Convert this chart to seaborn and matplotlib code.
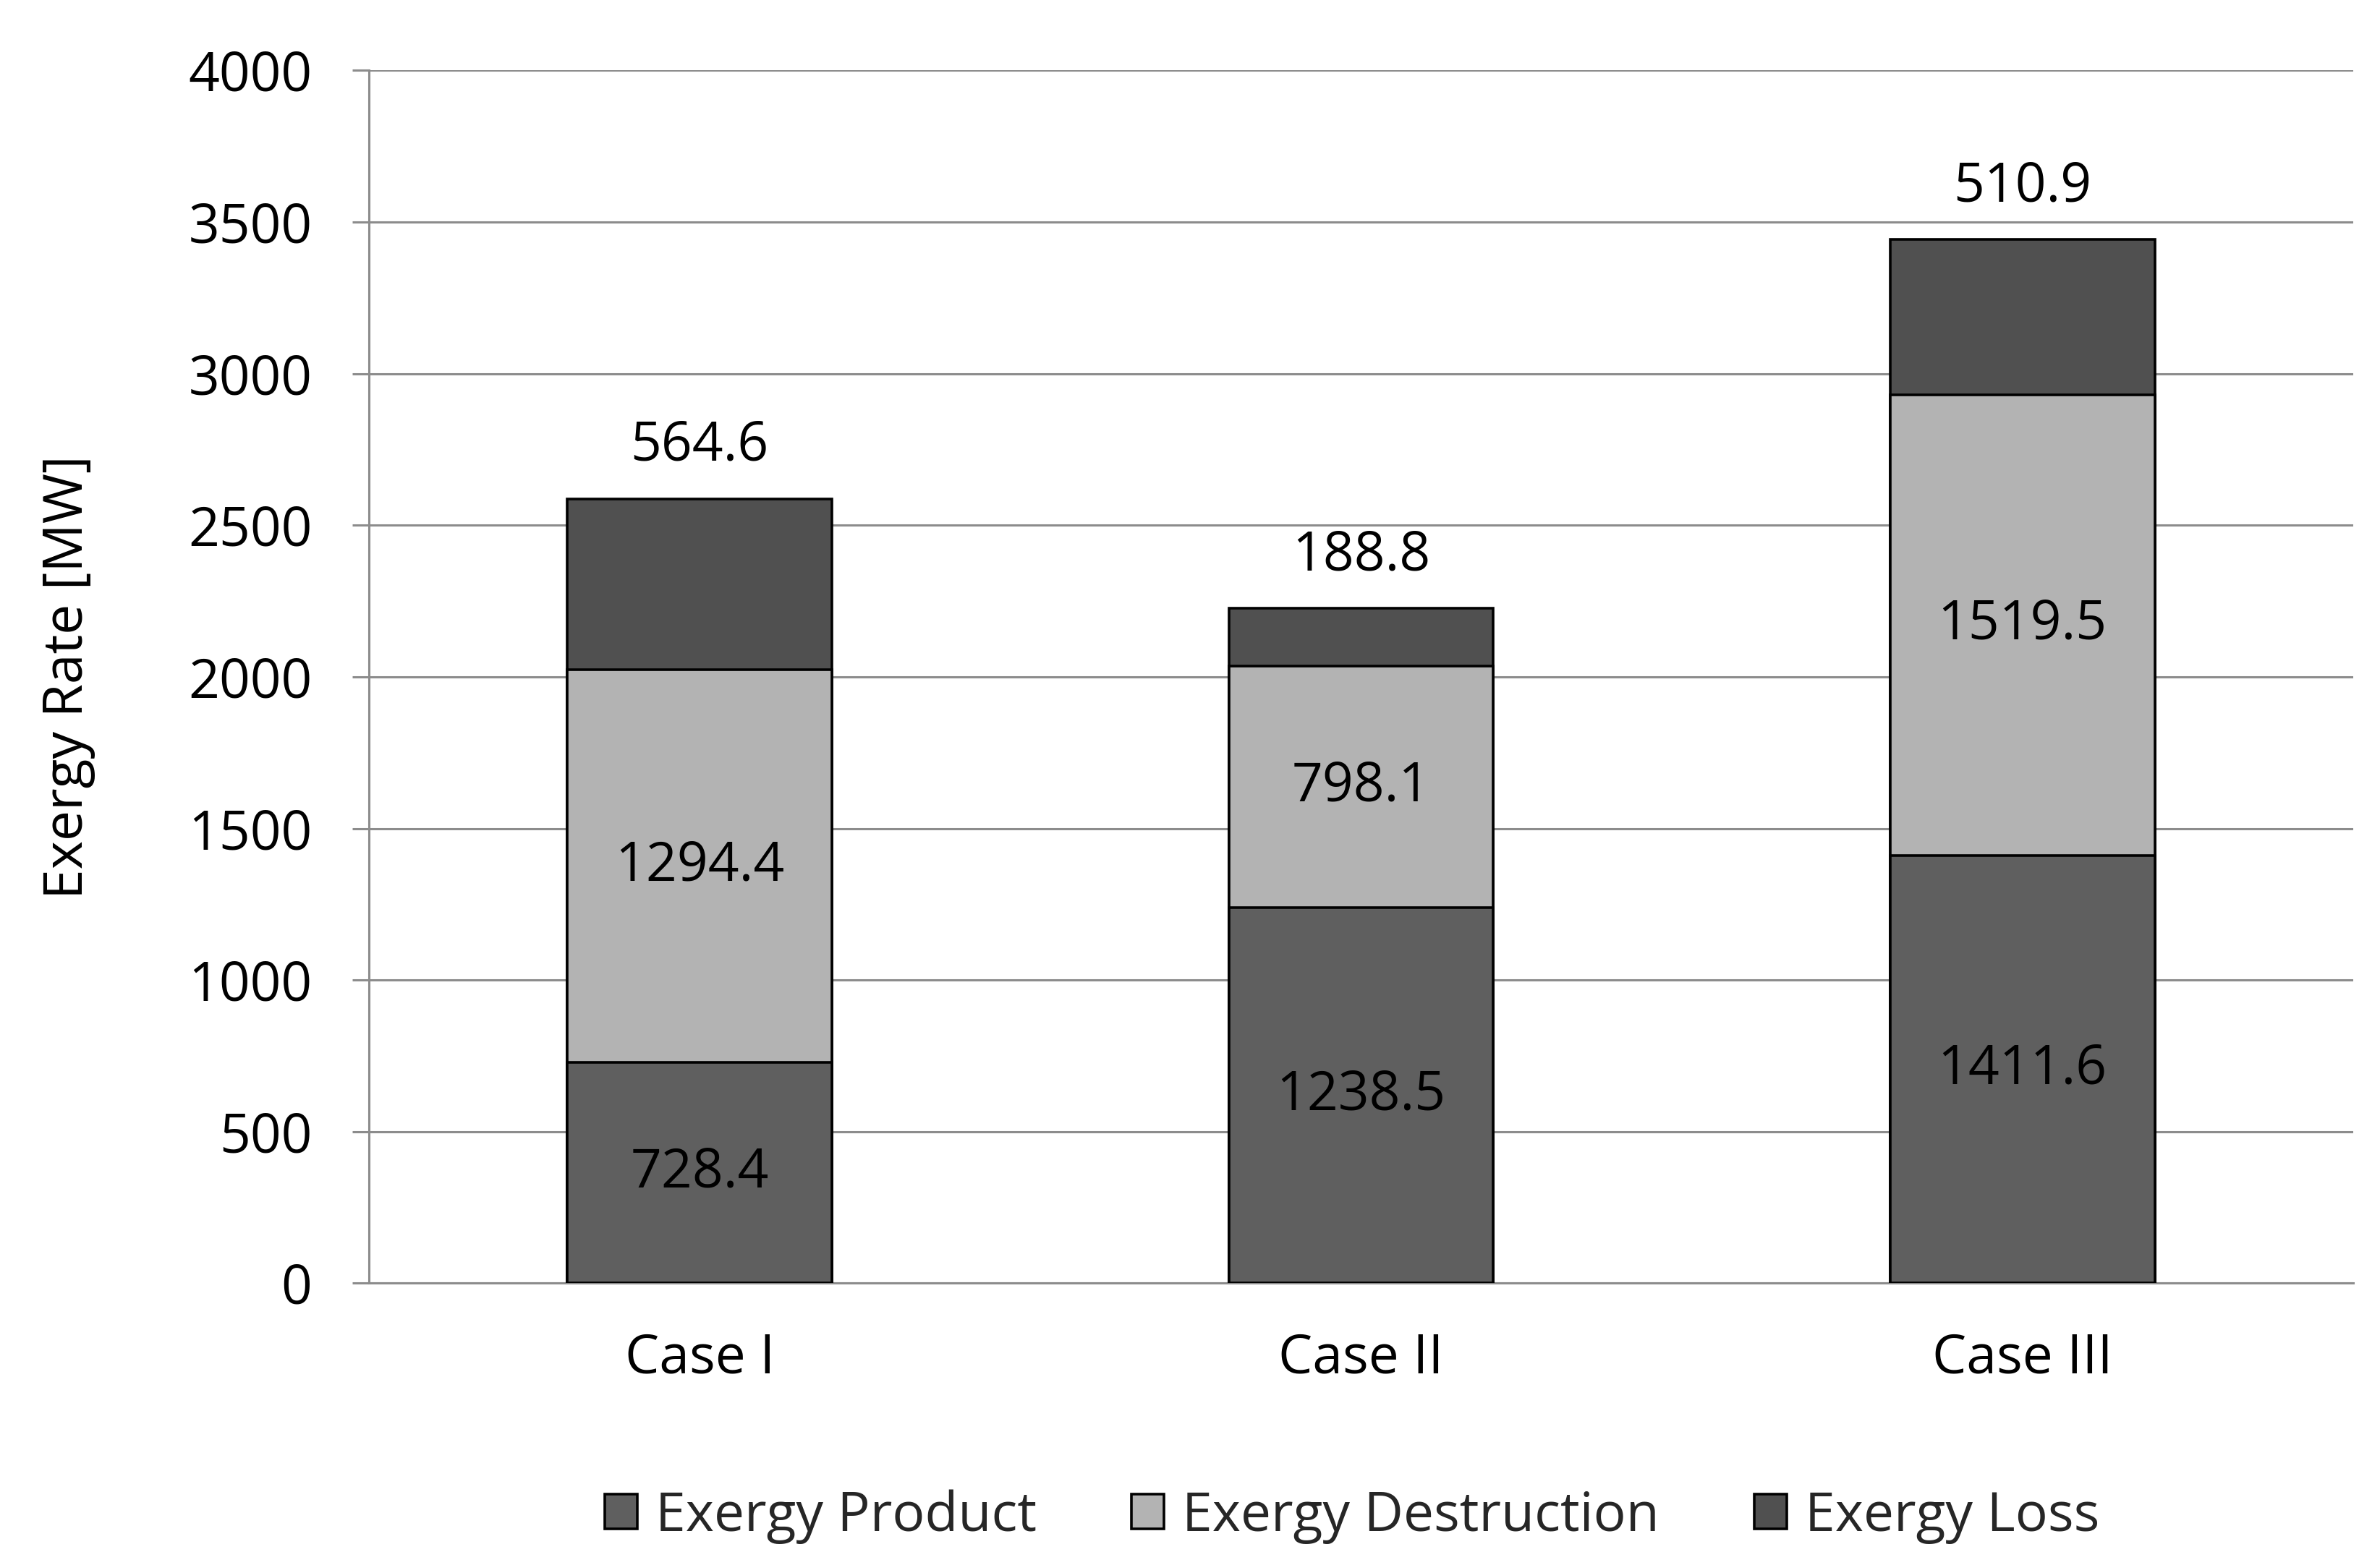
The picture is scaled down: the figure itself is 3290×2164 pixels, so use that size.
import matplotlib
matplotlib.use("Agg")
import matplotlib.pyplot as plt
import seaborn as sns
import numpy as np
import pandas as pd

cases = ["Case I", "Case II", "Case III"]
exergy_product = [728.4, 1238.5, 1411.6]
exergy_destruction = [1294.4, 798.1, 1519.5]
exergy_loss = [564.6, 188.8, 510.9]
series_names = ["Exergy Product", "Exergy Destruction", "Exergy Loss"]
series_colors = ["#5f5f5f", "#b3b3b3", "#505050"]
y_ticks = [0, 500, 1000, 1500, 2000, 2500, 3000, 3500, 4000]

sns.set_theme(style="white")
plt.rcParams['font.family'] = ['Open Sans', 'DejaVu Sans']

FS = 27
fig = plt.figure(figsize=(16.455, 10.82), dpi=200)
ax = fig.add_axes([0.155, 0.180, 0.8334, 0.775])

p = np.array(exergy_product)
d = np.array(exergy_destruction)
l = np.array(exergy_loss)
cum1 = p
cum2 = p + d
cum3 = p + d + l

df = pd.DataFrame({"case": cases, "c1": cum1, "c2": cum2, "c3": cum3})

common = dict(edgecolor="black", linewidth=1.3, width=0.4, ax=ax, zorder=3)
sns.barplot(data=df, x="case", y="c3", color=series_colors[2], label=series_names[2], **common)
sns.barplot(data=df, x="case", y="c2", color=series_colors[1], label=series_names[1], **common)
sns.barplot(data=df, x="case", y="c1", color=series_colors[0], label=series_names[0], **common)
for cont, col in zip(ax.containers, [series_colors[2], series_colors[1], series_colors[0]]):
    for bar in cont:
        bar.set_facecolor(col)
if ax.get_legend() is not None:
    ax.get_legend().remove()

ax.set_xlim(-0.5, 2.5)
ax.set_ylim(0, 4000)
ax.set_yticks(y_ticks)
ax.set_yticklabels([str(t) for t in y_ticks])
ax.yaxis.grid(True, color="#8c8c8c", linewidth=1.1, zorder=0)
ax.xaxis.grid(False)
ax.set_axisbelow(True)

for s in ["top", "right"]:
    ax.spines[s].set_visible(False)
for s in ["left", "bottom"]:
    ax.spines[s].set_color("#8c8c8c")
    ax.spines[s].set_linewidth(1.1)

ax.tick_params(axis="y", which="major", length=8.3, width=1.1, color="#8c8c8c",
               pad=20, labelsize=FS, labelcolor="black", left=True)
ax.tick_params(axis="x", which="major", length=0, pad=24, labelsize=FS, labelcolor="black")

ax.set_xlabel("")
ax.set_ylabel("Exergy Rate [MW]", fontsize=FS, color="black")
ax.yaxis.set_label_coords(-0.138, 0.5)

for i in range(len(cases)):
    ax.text(i, p[i] / 2, f"{p[i]:.1f}", ha="center", va="center", fontsize=FS, color="black", zorder=5)
    ax.text(i, p[i] + d[i] / 2, f"{d[i]:.1f}", ha="center", va="center", fontsize=FS, color="black", zorder=5)
    ax.annotate(f"{l[i]:.1f}", xy=(i, cum3[i]), xytext=(0, 26), textcoords="offset points",
                ha="center", va="center", fontsize=FS, color="black", zorder=5)

handles, labels = ax.get_legend_handles_labels()
order = [labels.index(n) for n in series_names]
fig.legend([handles[k] for k in order], [labels[k] for k in order],
           loc="center", bbox_to_anchor=(0.568, 0.031), ncol=3, frameon=False,
           fontsize=FS, handlelength=0.6, handleheight=0.6, handletextpad=0.33,
           columnspacing=1.75)

fig.savefig("out.png", dpi=200, facecolor="white")
